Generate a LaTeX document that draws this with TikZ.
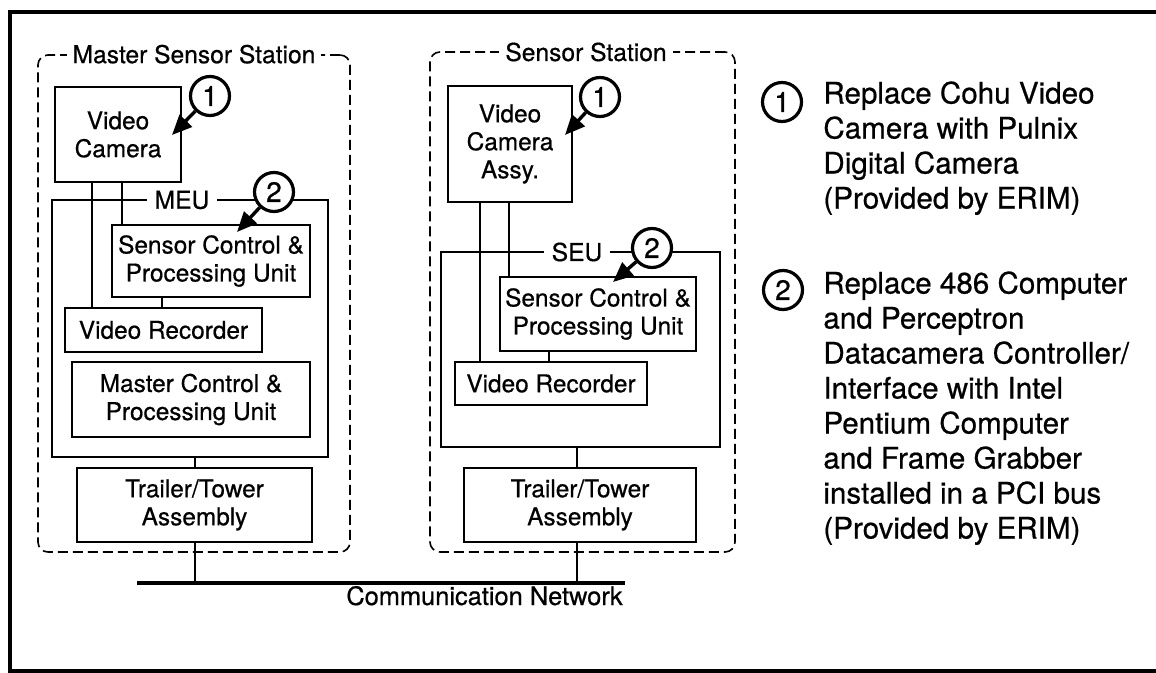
\documentclass[tikz,border=0pt]{standalone}
\usepackage{fontspec}
\setmainfont{TeX Gyre Heros}[FakeBold=0.6]
\usetikzlibrary{arrows.meta,calc}
\begin{document}
\begin{tikzpicture}[x=0.5pt,y=-0.5pt,
 box/.style={draw,line width=0.8pt,inner sep=0pt,align=center,font=\fontsize{12.2}{14}\selectfont},
 thickbox/.style={box,line width=1.15pt},
 station/.style={draw,line width=0.8pt,dash pattern=on 5pt off 2.5pt,rounded corners=5pt,inner sep=0pt},
 unitbox/.style={draw,line width=0.7pt,inner sep=0pt},
 title/.style={fill=white,inner xsep=3pt,inner ysep=1pt,font=\fontsize{12.3}{14}\selectfont},
 num/.style={circle,draw,line width=1.6pt,fill=white,minimum size=19.5pt,inner sep=0pt,font=\fontsize{14}{14}\selectfont},
 callout/.style={line width=1.7pt,-{Triangle[length=10pt,width=8.5pt]}},
 wire/.style={line width=0.6pt},
 note/.style={align=left,anchor=north west,inner sep=0pt,font=\fontsize{14.8}{17.5}\selectfont}]
\useasboundingbox (0,0) rectangle (1156,673);
% outer frame
\draw[line width=1.6pt] (10,12) rectangle (1180,671);

% ---------------- Master Sensor Station ----------------
\node[station,minimum width=156pt,minimum height=248.5pt] (mS) at (194,303.5) {};
\node[title] (mST) at (mS.north) {Master Sensor Station};
\node[unitbox,minimum width=138pt,minimum height=128.5pt] (mMEU) at (190,328.5) {};
\node[title,inner xsep=4pt] (mMEUl) at (182,200) {MEU};
\node[box,minimum width=63pt,minimum height=47.5pt] (mVC) at (118,134.5) {Video\\Camera};
\node[thickbox,minimum width=99pt,minimum height=36pt] (mSCPU) at (211,261) {Sensor Control \&\\Processing Unit};
\node[box,minimum width=98.5pt,minimum height=22pt] (mVR) at (163.5,330) {Video Recorder};
\node[thickbox,minimum width=119pt,minimum height=37.5pt] (mMCPU) at (191,399.5) {Master Control \&\\Processing Unit};
\node[box,minimum width=117.5pt,minimum height=37pt] (mTT) at (194.5,505) {Trailer/Tower\\Assembly};

\draw[wire] (mVC.south -| 92,0) -- (mVR.north -| 92,0);
\draw[wire] (mVC.south -| 122,0) -- (mSCPU.north -| 122,0);
\draw[wire] (mSCPU.south -| 162,0) -- (mVR.north -| 162,0);
\draw[wire] (mMEU.south -| 195,0) -- (mTT.north -| 195,0);

\node[num] (m1) at (210,96) {1};
\coordinate (m1t) at (172,135);
\draw[callout] (m1) -- (m1t);
\node[num] (m2) at (274,192) {2};
\coordinate (m2t) at (237,232);
\draw[callout] (m2) -- (m2t);

% ---------------- Sensor Station ----------------
\node[station,minimum width=152.5pt,minimum height=250pt] (sS) at (582.5,302) {};
\node[title] (sST) at (586,52) {Sensor Station};
\node[unitbox,minimum width=139.5pt,minimum height=97.5pt] (sSEU) at (580.5,349.5) {};
\node[title,inner xsep=4pt] (sSEUl) at (577,252) {SEU};
\node[box,minimum width=62pt,minimum height=58pt] (sVC) at (510,144) {Video\\Camera\\Assy.};
\node[thickbox,minimum width=98pt,minimum height=37pt] (sSCPU) at (598,314) {Sensor Control \&\\Processing Unit};
\node[box,minimum width=96pt,minimum height=21.5pt] (sVR) at (551,383.5) {Video Recorder};
\node[box,minimum width=116pt,minimum height=37pt] (sTT) at (580,505) {Trailer/Tower\\Assembly};

\draw[wire] (sVC.south -| 480,0) -- (sVR.north -| 480,0);
\draw[wire] (sVC.south -| 509,0) -- (sSCPU.north -| 509,0);
\draw[wire] (sSCPU.south -| 549,0) -- (sVR.north -| 549,0);
\draw[wire] (sSEU.south -| 577,0) -- (sTT.north -| 577,0);

\node[num] (s1) at (600,97) {1};
\coordinate (s1t) at (565,135);
\draw[callout] (s1) -- (s1t);
\node[num] (s2) at (652,248) {2};
\coordinate (s2t) at (613,282);
\draw[callout] (s2) -- (s2t);

% ---------------- Network ----------------
\coordinate (nL) at (137,583);
\coordinate (nR) at (625,583);
\draw[line width=2.2pt] (nL) -- (nR);
\draw[wire] (mTT.south -| 195,0) -- (nL -| 195,0);
\draw[wire] (sTT.south -| 577,0) -- (nL -| 577,0);
\node[anchor=base east,inner sep=0pt,font=\fontsize{12.7}{14}\selectfont] (net) at (623,605) {Communication Network};

% ---------------- Notes ----------------
\node[num] (r1) at (782,102) {1};
\node[note] (n1) at (823,81) {Replace Cohu Video\\Camera with Pulnix\\Digital Camera\\(Provided by ERIM)};
\node[num] (r2) at (783,290) {2};
\node[note] (n2) at (823,271) {Replace 486 Computer\\and Perceptron\\Datacamera Controller/\\Interface with Intel\\Pentium Computer\\and Frame Grabber\\installed in a PCI bus\\(Provided by ERIM)};
\end{tikzpicture}
\end{document}
